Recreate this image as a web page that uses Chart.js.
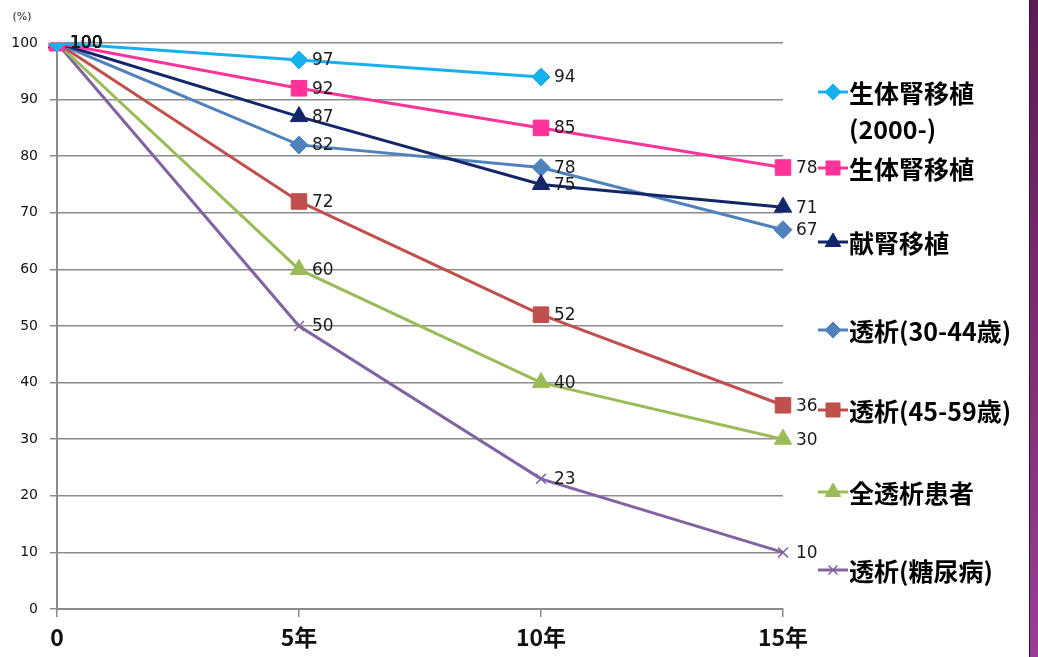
<!DOCTYPE html>
<html><head><meta charset="utf-8">
<script src="https://cdn.jsdelivr.net/npm/chart.js@4"></script>
<style>
html,body{margin:0;padding:0;background:#fff;}
#wrap{position:relative;width:1038px;height:657px;}
#bar{position:absolute;left:1029px;top:0;width:9px;height:657px;background:linear-gradient(#5c1d55,#9a3f95);border-left:1px solid #3a1036;box-sizing:border-box;}
</style></head>
<body><div id="wrap"><canvas id="c" width="1038" height="657"></canvas><div id="bar"></div></div>
<script>
const categories = ['0', '5年', '10年', '15年'];
const yTicks = [0,10,20,30,40,50,60,70,80,90,100];
const seriesNames = ['生体腎移植\n(2000-)', '生体腎移植', '献腎移植', '透析(30-44歳)', '透析(45-59歳)', '全透析患者', '透析(糖尿病)'];
const liveDonor2000 = [100, 97, 94, null];
const liveDonor = [100, 92, 85, 78];
const deceasedDonor = [100, 87, 75, 71];
const dialysis30_44 = [100, 82, 78, 67];
const dialysis45_59 = [100, 72, 52, 36];
const dialysisAll = [100, 60, 40, 30];
const dialysisDiabetes = [100, 50, 23, 10];

const seriesData = [liveDonor2000, liveDonor, deceasedDonor, dialysis30_44, dialysis45_59, dialysisAll, dialysisDiabetes];
const colors = ['#14b1ec', '#ff3399', '#14266a', '#4f81bd', '#c0504d', '#9bbb59', '#8064a2'];
const styles = ['rectRot', 'rect', 'triangle', 'rectRot', 'rect', 'triangle', 'crossRot'];
const radii = [9, 11, 10, 9, 11, 10, 7];
const legendY = [92, 168, 242, 330, 410, 492, 570];

const datasets = seriesData.map((d, i) => ({
  label: seriesNames[i],
  data: d,
  borderColor: colors[i],
  backgroundColor: colors[i],
  borderWidth: 3,
  pointStyle: styles[i],
  pointRadius: radii[i],
  pointBorderWidth: styles[i] === 'crossRot' ? 1.5 : 1,
  pointBorderColor: colors[i],
  pointBackgroundColor: colors[i],
  tension: 0,
  spanGaps: false
}));

const extras = {
  id: 'extras',
  afterDatasetsDraw(chart) {
    const ctx = chart.ctx;
    ctx.save();
    ctx.font = '17px "DejaVu Sans", sans-serif';
    ctx.fillStyle = '#1a1a1a';
    ctx.textBaseline = 'middle';
    ctx.textAlign = 'left';
    chart.data.datasets.forEach((ds, i) => {
      const meta = chart.getDatasetMeta(i);
      meta.data.forEach((pt, j) => {
        const v = ds.data[j];
        if (v === null || v === undefined) return;
        ctx.fillText(String(v), pt.x + 13, pt.y + 1);
      });
    });
    // (%) label
    ctx.font = '11px "DejaVu Sans", sans-serif';
    ctx.fillStyle = '#222';
    ctx.textAlign = 'center';
    ctx.fillText('(%)', 22, 17);
    // legend
    const lx0 = 818, lx1 = 848;
    chart.data.datasets.forEach((ds, i) => {
      const y = legendY[i];
      ctx.strokeStyle = ds.borderColor;
      ctx.lineWidth = 3;
      ctx.beginPath(); ctx.moveTo(lx0, y); ctx.lineTo(lx1, y); ctx.stroke();
      ctx.fillStyle = ds.borderColor;
      ctx.strokeStyle = ds.borderColor;
      ctx.lineWidth = ds.pointBorderWidth;
      Chart.helpers.drawPoint(ctx, {pointStyle: ds.pointStyle, radius: ds.pointRadius * 0.9, borderWidth: ds.pointBorderWidth}, (lx0 + lx1) / 2, y);
      ctx.fillStyle = '#000';
      ctx.font = 'bold 25px "Noto Sans CJK JP", sans-serif';
      ctx.textAlign = 'left';
      ctx.textBaseline = 'middle';
      const lines = ds.label.split('\n');
      lines.forEach((t, k) => ctx.fillText(t, 849, y + 1 + k * 36));
    });
    ctx.restore();
  }
};

new Chart(document.getElementById('c'), {
  type: 'line',
  data: { labels: categories, datasets },
  options: {
    responsive: false,
    animation: false,
    layout: { padding: { left: 0, top: 43, right: 255, bottom: 0 } },
    plugins: { legend: { display: false }, tooltip: { enabled: false } },
    scales: {
      x: {
        offset: false,
        grid: { display: true, drawOnChartArea: false, drawTicks: true, tickLength: 8, color: '#8c8c8c', lineWidth: 1.5 },
        border: { color: '#8c8c8c', width: 2 },
        ticks: { color: '#111', font: { size: 23, weight: 'bold', family: '"Noto Sans CJK JP", sans-serif' }, padding: 6, maxRotation: 0 },
        afterFit(s) { s.height = 48; }
      },
      y: {
        min: 0, max: 100,
        afterBuildTicks(s) { s.ticks = yTicks.map(v => ({ value: v })); },
        grid: { color: '#8c8c8c', lineWidth: 1.5, tickLength: 7 },
        border: { color: '#8c8c8c', width: 2 },
        ticks: { color: '#111', font: { size: 14, family: '"DejaVu Sans", sans-serif' }, padding: 12 },
        afterFit(s) { s.width = 57; }
      }
    }
  },
  plugins: [extras]
});
</script></body></html>
